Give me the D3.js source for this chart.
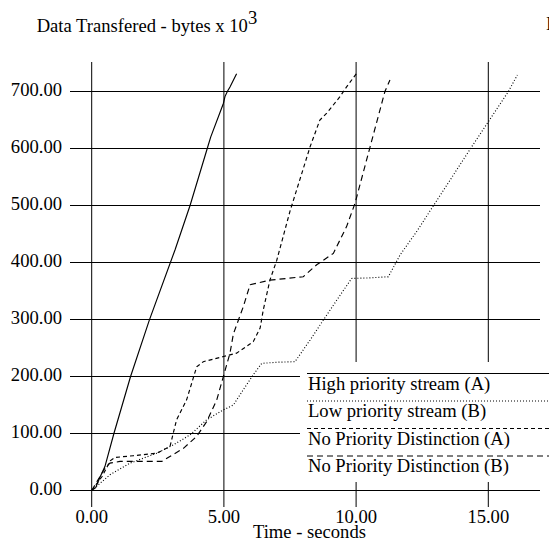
<!DOCTYPE html>
<html>
<head>
    <meta charset="utf-8">
    <script src="https://d3js.org/d3.v7.min.js"></script>
    <style>
        body { margin: 0; background: #fff; }
        text { font-family: "Liberation Serif", "Times New Roman", serif; font-size: 18.6px; fill: #000; }
    </style>
</head>
<body>
    <svg id="chart" width="549" height="542"></svg>

    <script>
        // Series (time in seconds, data in bytes x 10^3)
        const highA_t = [0, 0.15, 0.3, 0.5, 0.84, 1.47, 2.18, 3.15, 3.72, 4.37, 4.5, 4.98, 5.04, 5.13, 5.23, 5.48];
        const highA_v = [0, 5, 22, 42, 100, 200, 299, 422, 500, 600, 620, 679, 691, 700, 708, 731];

        const lowB_t = [0, 0.69, 1.45, 2.46, 3.09, 3.72, 4.35, 4.98, 5.36, 5.73, 6.11, 6.43, 7.0, 7.69, 8.26, 8.76, 9.27, 9.83, 10.5, 11.22, 11.66, 12.3, 13.0, 14.4, 15.76, 16.1];
        const lowB_v = [0, 27.5, 48, 65.5, 80, 97.6, 124, 141.5, 150, 176.5, 203, 223, 225, 226, 264, 299, 334, 372, 373, 375, 413, 455, 505, 605, 700, 729];

        const noPriA_t = [0, 0.4, 0.7, 0.88, 1.57, 2.46, 2.96, 3.21, 3.59, 3.97, 4.22, 4.98, 5.48, 6.11, 6.37, 6.49, 6.74, 7.0, 7.5, 8.26, 8.63, 8.89, 9.39, 9.64, 10.02];
        const noPriA_v = [0, 25, 52, 58, 61, 65.5, 77, 124, 159, 217, 226, 235, 241, 261, 285, 317, 369, 404, 490, 603, 650, 662, 691, 708, 732];

        const noPriB_t = [0, 0.5, 0.69, 1.07, 2.65, 3.47, 3.97, 4.35, 4.73, 4.98, 5.23, 5.36, 5.73, 5.99, 6.74, 8.0, 8.51, 9.14, 9.64, 9.96, 10.53, 11.09, 11.28];
        const noPriB_v = [0, 39, 48, 51, 51, 74, 95, 121, 159, 200, 241, 275, 322, 361, 369, 375, 396, 416, 463, 504, 603, 700, 720];

        const seriesNames = ["High priority stream (A)", "Low priority stream (B)", "No Priority Distinction (A)", "No Priority Distinction (B)"];
        const xTicks = [0, 5, 10, 15];
        const yTicks = [0, 100, 200, 300, 400, 500, 600, 700];

        const svg = d3.select("#chart");

        const x = d3.scaleLinear().domain([0, 15]).range([91.7, 488.3]);
        const y = d3.scaleLinear().domain([0, 700]).range([490.5, 91.5]);

        const fmt = d3.format(".2f");

        // horizontal grid lines
        svg.append("g")
            .selectAll("line")
            .data(yTicks)
            .join("line")
                .attr("x1", 70).attr("x2", 540)
                .attr("y1", d => y(d)).attr("y2", d => y(d))
                .attr("stroke", "#000").attr("stroke-width", 1);

        // vertical grid lines (with tick below the axis)
        svg.append("g")
            .selectAll("line")
            .data(xTicks)
            .join("line")
                .attr("x1", d => x(d)).attr("x2", d => x(d))
                .attr("y1", 62).attr("y2", 507)
                .attr("stroke", "#000").attr("stroke-width", 1);

        // y tick labels
        svg.append("g")
            .selectAll("text")
            .data(yTicks)
            .join("text")
                .attr("x", 62)
                .attr("y", d => y(d) + 4.7)
                .attr("text-anchor", "end")
                .text(d => fmt(d));

        // x tick labels
        svg.append("g")
            .selectAll("text")
            .data(xTicks)
            .join("text")
                .attr("x", d => x(d))
                .attr("y", 523)
                .attr("text-anchor", "middle")
                .text(d => fmt(d));

        // axis titles
        const title = svg.append("text").attr("x", 36.7).attr("y", 32.3);
        title.append("tspan").text("Data Transfered - bytes x 10");
        title.append("tspan").attr("dy", -8).text("3");

        svg.append("text").attr("x", 253).attr("y", 538).text("Time - seconds");

        // clipped label at the right edge
        svg.append("text").attr("x", 546).attr("y", 29.5).text("I");

        // data lines
        const line = d3.line()
            .x(d => x(d[0]))
            .y(d => y(d[1]));

        const series = [
            { t: highA_t, v: highA_v, dash: null },
            { t: lowB_t, v: lowB_v, dash: "1,2" },
            { t: noPriA_t, v: noPriA_v, dash: "4,3" },
            { t: noPriB_t, v: noPriB_v, dash: "6,4" }
        ];

        svg.append("g")
            .selectAll("path")
            .data(series)
            .join("path")
                .attr("d", s => line(d3.zip(s.t, s.v)))
                .attr("fill", "none")
                .attr("stroke", "#000")
                .attr("stroke-width", 1.15)
                .attr("stroke-dasharray", s => s.dash);

        // legend (white box hides grid behind it)
        const legend = svg.append("g");
        legend.append("rect")
            .attr("x", 300).attr("y", 362)
            .attr("width", 249).attr("height", 120)
            .attr("fill", "#fff");

        const legendRows = legend.selectAll("g")
            .data(series)
            .join("g")
                .attr("transform", (s, i) => `translate(0, ${373.5 + i * 27.5})`);

        legendRows.append("line")
            .attr("x1", 307).attr("x2", 549)
            .attr("y1", 0).attr("y2", 0)
            .attr("stroke", "#000")
            .attr("stroke-width", 1)
            .attr("stroke-dasharray", s => s.dash);

        legendRows.append("text")
            .attr("x", 308)
            .attr("y", 16)
            .text((s, i) => seriesNames[i]);
    </script>
</body>
</html>
